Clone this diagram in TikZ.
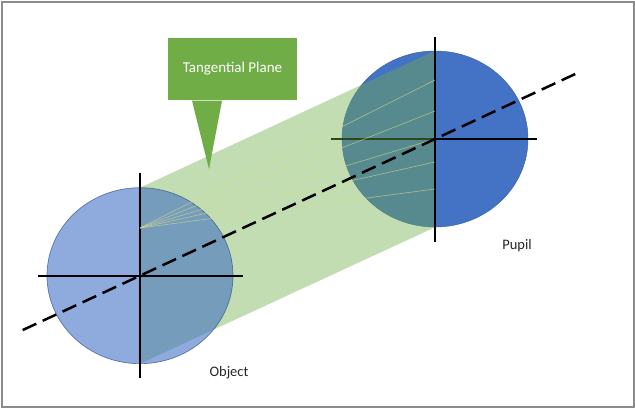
\documentclass[tikz,border=0pt]{standalone}
\usepackage{fontspec}
\setmainfont{Carlito}
\usetikzlibrary{shapes.geometric,calc}
\definecolor{pblue}{HTML}{4472C4}
\definecolor{pgreen}{HTML}{70AD47}
\definecolor{edgeblue}{HTML}{2F528F}
\definecolor{raycol}{HTML}{D2DA8A}
\definecolor{framecol}{HTML}{8C8C8C}
\begin{document}
\begin{tikzpicture}[x=1pt,y=-1pt,
  disc/.style={ellipse, minimum width=186pt, minimum height=176pt, inner sep=0pt},
  axisline/.style={line width=2pt, black},
  ray/.style={raycol, line width=0.7pt, opacity=0.6},
  lbl/.style={font=\fontsize{14.5}{16}\selectfont, text=black!85, inner sep=0pt},
  callbox/.style={rectangle, fill=pgreen, minimum width=129pt, minimum height=62pt,
    inner sep=0pt, text=white, font=\fontsize{15}{17}\selectfont}]
\useasboundingbox (0,0) rectangle (635,409);
% frame
\draw[framecol, line width=2pt] (1.5,2.5) rectangle (633.5,406.5);
% centres
\coordinate (oc) at (140,275.7);
\coordinate (pc) at (435,139);
% pupil
\node[disc, fill=pblue, draw=pblue!85!black, line width=0.5pt] (pupil) at (pc) {};
\coordinate (phl) at ($(pc)+(-104,0)$);
\coordinate (phr) at ($(pc)+(102,0)$);
\draw[axisline] (phl) -- (phr);
% tangential plane band
\coordinate (otop) at ($(oc)+(0,-88)$);
\coordinate (obot) at ($(oc)+(0,88)$);
\fill[pgreen, fill opacity=0.42] (otop) -- (pupil.north) -- (pupil.south) -- (obot) -- cycle;
% object
\node[disc, fill=pblue, fill opacity=0.6, draw=edgeblue, draw opacity=0.7, line width=0.7pt] (obj) at (oc) {};
\coordinate (ovt) at ($(oc)+(0,-103)$);
\coordinate (ovb) at ($(oc)+(0,102)$);
\coordinate (ohl) at ($(oc)+(-102,0)$);
\coordinate (ohr) at ($(oc)+(103,0)$);
\draw[axisline] (ohl) -- (ohr);
\draw[axisline] (ovt) -- (ovb);
\coordinate (pvt) at ($(pc)+(0,-102)$);
\coordinate (pvb) at ($(pc)+(0,103)$);
\draw[axisline] (pvt) -- (pvb);
% rays
\coordinate (rs) at (140,228);
\foreach \yy [count=\i] in {80,111,139,162,189}{
  \coordinate (re\i) at (435,\yy);
  \draw[ray] (rs) -- (re\i);
}
% optical axis
\coordinate (dl) at ($(oc)!-0.3977!(pc)$);
\coordinate (dr) at ($(oc)!1.4837!(pc)$);
\draw[black, line width=2.5pt, dash pattern=on 15pt off 7pt] (dl) -- (dr);
% callout
\node[callbox] (callout) at (232.5,69) {Tangential Plane};
\coordinate (cb1) at ($(callout.south)+(-40.5,0.5)$);
\coordinate (cb2) at ($(callout.south)+(-10.5,0.5)$);
\coordinate (ctip) at ($(callout.south)+(-23.5,69)$);
\fill[pgreen] (cb1) -- (ctip) -- (cb2) -- cycle;
% labels
\node[lbl] (objlbl) at (229,373) {Object};
\node[lbl] (puplbl) at (517,246) {Pupil};
\end{tikzpicture}
\end{document}
